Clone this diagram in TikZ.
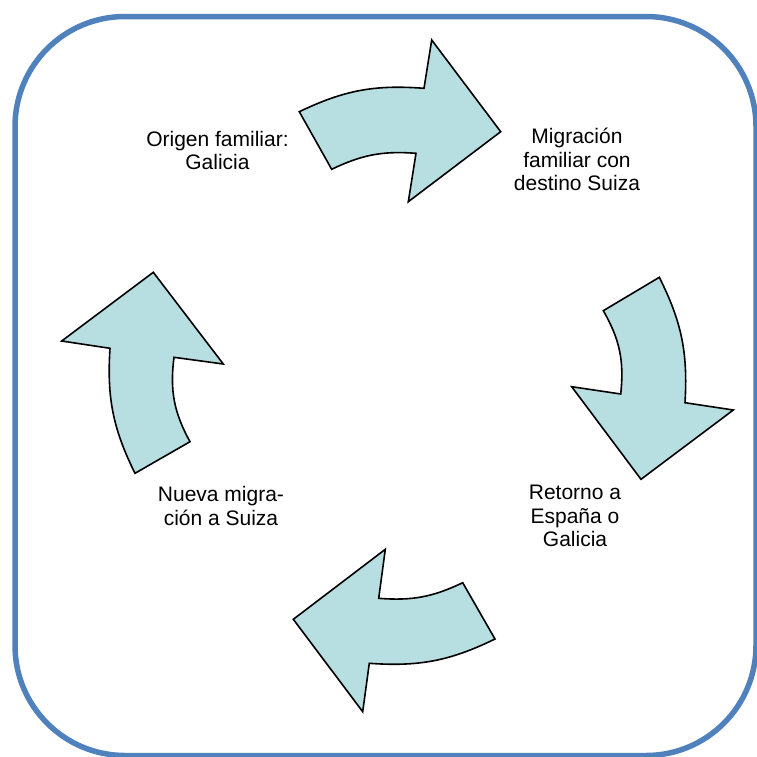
\documentclass[tikz,border=0pt]{standalone}
\usepackage{fontspec}
\setmainfont{Liberation Sans}
\definecolor{frameblue}{HTML}{4F81BD}
\definecolor{arrowfill}{HTML}{B7DEE1}
\begin{document}
\begin{tikzpicture}[x=1pt,y=-1pt,
  cyclearrow/.style={draw=black, line width=1.6pt, fill=arrowfill, line join=miter},
  label/.style={align=center, font=\fontsize{21}{23.8}\selectfont, inner sep=0pt}]
\useasboundingbox (0,0) rectangle (757,756);
\draw[frameblue, line width=5.5pt, rounded corners=110pt] (15,16.5) rectangle (756,755.5);

% top arrow
\draw[cyclearrow] (299.3,111.7) to[bend left=15] (424,88.3) -- (431.7,40) -- (500.7,131.7)
  -- (408.3,201.7) -- (416,153.3) to[bend right=15] (331.7,169.3) -- cycle;
% right arrow
\draw[cyclearrow] (659.3,277.3) -- (603.3,310.7) to[bend left=18] (620.7,394) -- (571.7,386.7)
  -- (641,479.3) -- (733.3,410) -- (685,402.7) to[bend right=15] (659.3,277.3) -- cycle;
% bottom arrow
\draw[cyclearrow] (495,639) -- (462.7,582.7) to[bend left=15] (378.7,598.3) -- (385.3,549.3)
  -- (293.3,619.3) -- (362.7,711.7) -- (369.3,663.3) to[bend right=15] (495,639) -- cycle;
% left arrow
\draw[cyclearrow] (135,473.3) -- (190,441.7) to[bend left=18] (174,357.3) -- (223.3,364)
  -- (153.3,272.3) -- (61.7,341) -- (110,348.3) to[bend right=15] (135,473.3) -- cycle;

\node[label] (origen) at (217.5,150.5) {Origen familiar:\\Galicia};
\node[label] (migracion) at (577,159.5) {Migración\\familiar con\\destino Suiza};
\node[label] (retorno) at (575,516) {Retorno a\\España o\\Galicia};
\node[label] (nueva) at (221,506) {Nueva migra-\\ción a Suiza};
\end{tikzpicture}
\end{document}
